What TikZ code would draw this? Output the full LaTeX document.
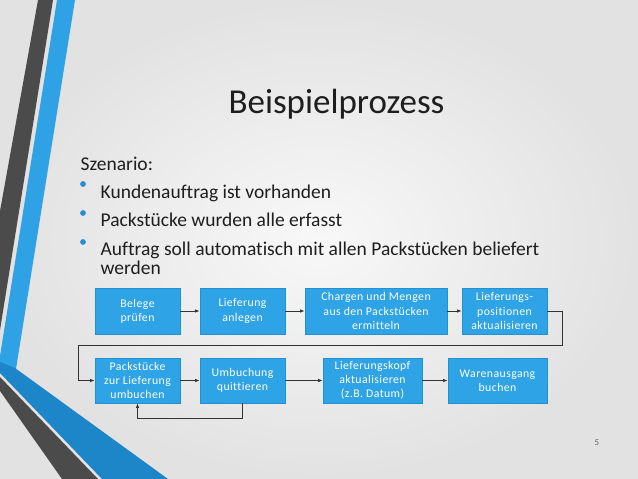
\documentclass[tikz,border=0pt]{standalone}
\usepackage{fontspec}
\setmainfont{Carlito}[Ligatures=NoCommon]
\usetikzlibrary{arrows.meta}
\definecolor{bgedge}{HTML}{E2E2E2}
\definecolor{bgmid}{HTML}{F8F8F8}
\definecolor{stripeblue}{HTML}{2EA2E4}
\definecolor{stripedark}{HTML}{1C86C8}
\definecolor{stripegray}{HTML}{4B4B4B}
\definecolor{boxfill}{HTML}{2EA3E6}
\definecolor{boxline}{HTML}{2390D2}
\definecolor{bulletblue}{HTML}{2A8FD0}
\definecolor{conncol}{HTML}{333333}
\definecolor{textcol}{HTML}{1E1E1E}
\tikzset{
  pbox/.style={draw=boxline, fill=boxfill, line width=0.8pt, text=white,
    font=\fontsize{11.8}{14.2}\selectfont\addfontfeatures{LetterSpace=3.5},
    align=center, inner sep=0pt, minimum height=46},
  conn/.style={draw=conncol, line width=0.8pt, -{Latex[length=4.5pt,width=3.5pt]}},
  bodytext/.style={anchor=base west, inner sep=0pt, text=textcol, font=\fontsize{19.5}{23}\selectfont}
}
\begin{document}
\begin{tikzpicture}[x=1pt,y=-1pt]
\useasboundingbox (0,0) rectangle (638,479);
% background
\shade[inner color=bgmid, outer color=bgedge] (0,0) rectangle (638,479);
% decorative stripes
\fill[stripegray] (38,0) -- (53,0) -- (0,330) -- (0,211) -- cycle;
\fill[stripeblue] (57,0) -- (75,0) -- (16,369) -- (0,366) -- (0,356) -- cycle;
\fill[stripegray] (0,377) -- (98,479) -- (62,479) -- (0,391) -- cycle;
\fill[stripedark] (0,362) -- (15,368) -- (168,479) -- (102,479) -- (0,373) -- cycle;
% title and text
\node[anchor=base, inner sep=0pt, text=textcol, font=\fontsize{35}{40}\selectfont] (title) at (336.5,113) {Beispielprozess};
\node[bodytext] (sz) at (80.5,170) {Szenario:};
\fill[bulletblue] (83,184) circle (2.9);
\fill[bulletblue] (83,213) circle (2.9);
\fill[bulletblue] (83,242) circle (2.9);
\node[bodytext] (t1) at (100.5,198) {Kundenauftrag ist vorhanden};
\node[bodytext] (t2) at (100.5,226) {Packstücke wurden alle erfasst};
\node[bodytext] (t3) at (100.5,255) {Auftrag soll automatisch mit allen Packstücken beliefert};
\node[bodytext] (t4) at (100.5,274) {werden};
% process boxes
\node[pbox, minimum width=85] (b1) at (137.5,311) {Belege\\prüfen};
\node[pbox, minimum width=85] (b2) at (242.5,311) {Lieferung\\anlegen};
\node[pbox, minimum width=142] (b3) at (376,311) {Chargen und Mengen\\aus den Packstücken\\ermitteln};
\node[pbox, minimum width=85] (b4) at (504.5,311) {Lieferungs-\\positionen\\aktualisieren};
\node[pbox, minimum width=85, minimum height=45] (b5) at (137.5,380.5) {Packstücke\\zur Lieferung\\umbuchen};
\node[pbox, minimum width=85, minimum height=45] (b6) at (242.5,380.5) {Umbuchung\\quittieren};
\node[pbox, minimum width=99, minimum height=45] (b7) at (372.5,380.5) {Lieferungskopf\\aktualisieren\\(z.B. Datum)};
\node[pbox, minimum width=99, minimum height=45] (b8) at (497.5,380.5) {Warenausgang\\buchen};
% connectors
\draw[conn] (b1) -- (b2);
\draw[conn] (b2) -- (b3);
\draw[conn] (b3) -- (b4);
\coordinate (r1) at (562,345);
\coordinate (l1) at (78,345);
\draw[conn] (b4.east) -| (r1) -- (l1) |- (b5.west);
\draw[conn] (b5) -- (b6);
\draw[conn] (b6) -- (b7);
\draw[conn] (b7) -- (b8);
\coordinate (fb) at (242.5,418);
\draw[conn] (b6.south) -- (fb) -| (b5.south);
% page number
\node[anchor=base, inner sep=0pt, text=black!60, font=\fontsize{9}{10}\selectfont] (pn) at (597,445) {5};
\end{tikzpicture}
\end{document}
